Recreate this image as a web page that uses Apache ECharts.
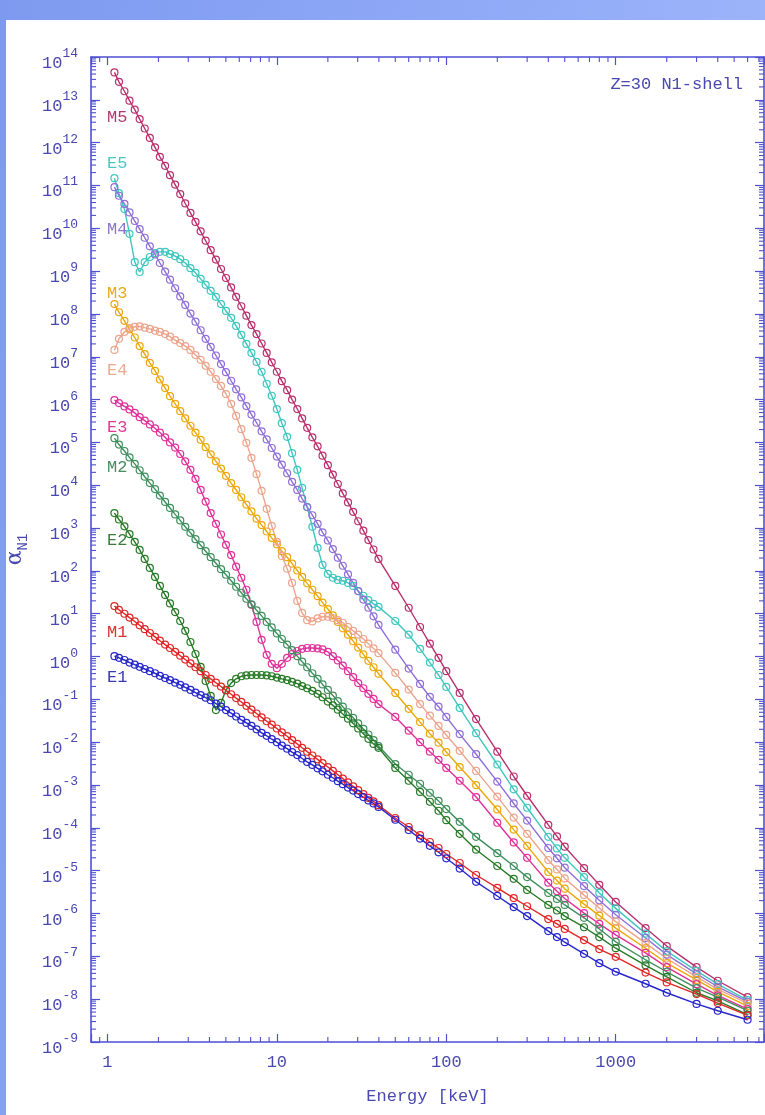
<!DOCTYPE html>
<html>
<head>
<meta charset="utf-8">
<title>Z=30 N1-shell</title>
<script src="https://cdn.jsdelivr.net/npm/echarts@6/dist/echarts.min.js"></script>
<style>
  html, body { margin: 0; padding: 0; }
  body { width: 765px; height: 1115px; position: relative; overflow: hidden;
         background: linear-gradient(100deg, #7d9af0 0%, #94adf8 60%, #a3baf9 100%); }
  #sheet { position: absolute; left: 6px; top: 20px; right: 0; bottom: 0; background: #fff; }
  #main { position: absolute; left: 0; top: 0; width: 765px; height: 1115px; }
</style>
</head>
<body>
<div id="sheet"></div>
<div id="main"></div>
<script>
// gamma energies in keV: fine grid up to 40 keV, then the coarse table points
var energy = [
  1.10, 1.17, 1.26, 1.35, 1.45, 1.55, 1.66, 1.78, 1.91, 2.04,
  2.19, 2.34, 2.51, 2.69, 2.88, 3.09, 3.31, 3.55, 3.80, 4.07,
  4.37, 4.68, 5.01, 5.37, 5.75, 6.17, 6.61, 7.08, 7.59, 8.13,
  8.71, 9.33, 10.0, 10.7, 11.5, 12.3, 13.2, 14.1, 15.1, 16.2,
  17.4, 18.6, 20.0, 21.4, 22.9, 24.5, 26.3, 28.2, 30.2, 32.4,
  34.7, 37.2, 39.8,
  50, 60, 70, 80, 90, 100, 120, 150, 200, 250, 300, 400, 450, 500, 650, 800,
  1000, 1500, 2000, 3000, 4000, 6000
];

// log10(alpha_N1) for each multipolarity
var m5 = [
  13.64, 13.42, 13.20, 12.98, 12.77, 12.55, 12.33, 12.11, 11.89, 11.67,
  11.46, 11.24, 11.02, 10.80, 10.58, 10.36, 10.15, 9.93, 9.71, 9.49,
  9.27, 9.05, 8.84, 8.62, 8.40, 8.18, 7.96, 7.74, 7.53, 7.31,
  7.09, 6.87, 6.65, 6.43, 6.22, 6.00, 5.78, 5.56, 5.34, 5.12,
  4.91, 4.69, 4.47, 4.25, 4.03, 3.81, 3.60, 3.38, 3.16, 2.94,
  2.72, 2.50, 2.28,
  1.65, 1.14, 0.69, 0.30, -0.03, -0.34, -0.85, -1.46, -2.22, -2.80, -3.25, -3.93, -4.20, -4.44, -4.94, -5.33,
  -5.73, -6.34, -6.76, -7.25, -7.57, -7.95
];
var e5 = [
  11.17, 10.82, 10.45, 9.87, 9.21, 8.98, 9.21, 9.33, 9.42, 9.45,
  9.45, 9.40, 9.35, 9.28, 9.19, 9.07, 8.96, 8.82, 8.68, 8.54,
  8.40, 8.23, 8.07, 7.91, 7.72, 7.51, 7.30, 7.09, 6.88, 6.65,
  6.37, 6.09, 5.78, 5.45, 5.13, 4.75, 4.36, 3.94, 3.49, 3.03,
  2.54, 2.14, 1.93, 1.84, 1.79, 1.77, 1.72, 1.65, 1.53, 1.42,
  1.32, 1.23, 1.16,
  0.83, 0.51, 0.18, -0.14, -0.43, -0.71, -1.20, -1.79, -2.52, -3.10, -3.53, -4.21, -4.48, -4.70, -5.15, -5.52,
  -5.88, -6.47, -6.88, -7.34, -7.65, -8.02
];
var m4 = [
  10.96, 10.76, 10.57, 10.37, 10.17, 9.98, 9.78, 9.58, 9.39, 9.19,
  8.99, 8.80, 8.60, 8.41, 8.21, 8.01, 7.82, 7.62, 7.42, 7.23,
  7.03, 6.83, 6.64, 6.44, 6.24, 6.05, 5.85, 5.65, 5.46, 5.26,
  5.07, 4.87, 4.67, 4.48, 4.28, 4.08, 3.89, 3.69, 3.49, 3.30,
  3.10, 2.90, 2.71, 2.51, 2.31, 2.12, 1.92, 1.72, 1.53, 1.33,
  1.14, 0.94, 0.74,
  0.16, -0.28, -0.64, -0.94, -1.17, -1.41, -1.81, -2.28, -2.92, -3.43, -3.83, -4.47, -4.71, -4.93, -5.36, -5.69,
  -6.03, -6.57, -6.96, -7.41, -7.71, -8.06
];
var m3 = [
  8.23, 8.04, 7.84, 7.64, 7.45, 7.25, 7.06, 6.86, 6.67, 6.47,
  6.27, 6.08, 5.90, 5.73, 5.56, 5.39, 5.23, 5.06, 4.89, 4.72,
  4.56, 4.39, 4.22, 4.05, 3.89, 3.72, 3.55, 3.39, 3.22, 3.07,
  2.92, 2.77, 2.62, 2.46, 2.32, 2.17, 2.01, 1.86, 1.71, 1.56,
  1.41, 1.26, 1.11, 0.96, 0.81, 0.66, 0.51, 0.36, 0.21, 0.05,
  -0.10, -0.25, -0.40,
  -0.85, -1.22, -1.53, -1.80, -2.01, -2.23, -2.58, -3.00, -3.57, -4.04, -4.42, -5.03, -5.23, -5.42, -5.78, -6.05,
  -6.34, -6.81, -7.16, -7.55, -7.83, -8.16
];
var e4 = [
  7.16, 7.42, 7.58, 7.67, 7.70, 7.71, 7.68, 7.65, 7.61, 7.58,
  7.53, 7.47, 7.39, 7.32, 7.25, 7.16, 7.04, 6.93, 6.79, 6.65,
  6.48, 6.32, 6.13, 5.90, 5.62, 5.31, 4.99, 4.64, 4.26, 3.87,
  3.45, 3.05, 2.68, 2.35, 2.05, 1.72, 1.30, 1.02, 0.85, 0.82,
  0.89, 0.93, 0.93, 0.90, 0.85, 0.79, 0.69, 0.60, 0.51, 0.41,
  0.30, 0.19, 0.08,
  -0.38, -0.77, -1.11, -1.38, -1.62, -1.83, -2.20, -2.67, -3.27, -3.76, -4.14, -4.75, -4.97, -5.18, -5.57, -5.87,
  -6.19, -6.69, -7.05, -7.48, -7.77, -8.10
];
var e3 = [
  5.99, 5.92, 5.84, 5.77, 5.69, 5.59, 5.51, 5.42, 5.33, 5.23,
  5.12, 5.00, 4.88, 4.73, 4.56, 4.36, 4.15, 3.89, 3.62, 3.35,
  3.10, 2.85, 2.61, 2.37, 2.10, 1.84, 1.56, 1.21, 0.81, 0.39,
  0.04, -0.17, -0.27, -0.17, -0.03, 0.06, 0.13, 0.18, 0.20, 0.20,
  0.19, 0.17, 0.11, 0.01, -0.09, -0.21, -0.34, -0.48, -0.62, -0.74,
  -0.87, -0.99, -1.11,
  -1.41, -1.73, -2.00, -2.22, -2.41, -2.60, -2.90, -3.28, -3.88, -4.34, -4.70, -5.28, -5.48, -5.65, -5.99, -6.24,
  -6.50, -6.92, -7.25, -7.65, -7.91, -8.23
];
var m2 = [
  5.10, 4.95, 4.80, 4.65, 4.50, 4.35, 4.20, 4.05, 3.91, 3.76,
  3.61, 3.47, 3.32, 3.18, 3.03, 2.89, 2.74, 2.60, 2.46, 2.32,
  2.18, 2.04, 1.91, 1.77, 1.63, 1.49, 1.35, 1.22, 1.08, 0.95,
  0.81, 0.68, 0.54, 0.41, 0.28, 0.15, 0.01, -0.12, -0.25, -0.39,
  -0.52, -0.65, -0.78, -0.91, -1.04, -1.17, -1.30, -1.43, -1.56, -1.69,
  -1.82, -1.95, -2.09,
  -2.51, -2.76, -2.97, -3.18, -3.37, -3.56, -3.86, -4.21, -4.59, -4.89, -5.15, -5.52, -5.66, -5.80, -6.10, -6.36,
  -6.66, -7.08, -7.36, -7.74, -7.95, -8.27
];
var e2 = [
  3.35, 3.20, 3.04, 2.86, 2.68, 2.49, 2.28, 2.07, 1.86, 1.65,
  1.44, 1.24, 1.04, 0.83, 0.60, 0.34, 0.06, -0.24, -0.57, -0.92,
  -1.25, -1.08, -0.78, -0.62, -0.52, -0.46, -0.44, -0.43, -0.43, -0.43,
  -0.44, -0.46, -0.49, -0.52, -0.55, -0.59, -0.63, -0.69, -0.74, -0.80,
  -0.87, -0.95, -1.05, -1.14, -1.24, -1.34, -1.45, -1.56, -1.68, -1.80,
  -1.92, -2.04, -2.13,
  -2.60, -2.90, -3.16, -3.39, -3.60, -3.82, -4.14, -4.51, -4.89, -5.19, -5.45, -5.80, -5.93, -6.06, -6.32, -6.55,
  -6.81, -7.21, -7.48, -7.85, -8.04, -8.36
];
var m1 = [
  1.18, 1.09, 1.00, 0.91, 0.82, 0.73, 0.64, 0.55, 0.46, 0.37,
  0.28, 0.20, 0.11, 0.02, -0.07, -0.16, -0.25, -0.34, -0.43, -0.52,
  -0.61, -0.70, -0.79, -0.88, -0.97, -1.06, -1.15, -1.24, -1.33, -1.42,
  -1.51, -1.59, -1.68, -1.77, -1.86, -1.95, -2.04, -2.13, -2.22, -2.31,
  -2.40, -2.49, -2.58, -2.67, -2.76, -2.85, -2.94, -3.03, -3.12, -3.21,
  -3.30, -3.38, -3.47,
  -3.77, -3.98, -4.17, -4.33, -4.47, -4.61, -4.82, -5.10, -5.40, -5.64, -5.83, -6.13, -6.24, -6.36, -6.62, -6.83,
  -7.01, -7.38, -7.61, -7.88, -8.09, -8.38
];
var e1 = [
  0.01, -0.03, -0.08, -0.14, -0.19, -0.24, -0.29, -0.34, -0.39, -0.45,
  -0.50, -0.55, -0.61, -0.66, -0.72, -0.78, -0.84, -0.90, -0.96, -1.02,
  -1.10, -1.17, -1.25, -1.32, -1.40, -1.48, -1.55, -1.62, -1.70, -1.78,
  -1.85, -1.93, -2.00, -2.08, -2.15, -2.23, -2.30, -2.38, -2.46, -2.53,
  -2.61, -2.68, -2.76, -2.83, -2.91, -2.98, -3.06, -3.13, -3.21, -3.28,
  -3.36, -3.43, -3.51,
  -3.81, -4.05, -4.25, -4.42, -4.57, -4.71, -4.95, -5.26, -5.59, -5.85, -6.06, -6.41, -6.55, -6.67, -6.94, -7.16,
  -7.36, -7.64, -7.85, -8.11, -8.27, -8.48
];

var names = ['M5', 'E5', 'M4', 'M3', 'E4', 'E3', 'M2', 'E2', 'M1', 'E1'];
var values = [m5, e5, m4, m3, e4, e3, m2, e2, m1, e1];
var lineColors = ['#b8306e', '#3fc6bf', '#8f6fd8', '#eaa80a', '#eda48c', '#e0309a', '#3f8f5e', '#267a26', '#e02626', '#2626cc'];
var tagColors  = ['#b03a70', '#4cc8c2', '#8a74c8', '#e6aa1e', '#eeaa92', '#e03a90', '#4a8c60', '#3c7c3c', '#d83434', '#3a3ab4'];
var tagY = [117, 163, 229, 293, 370, 427, 467, 540, 632, 677];

// axis ranges and tick marks
var xMin = 0.8, xMax = 7500;
var yMin = 1e-9, yMax = 1e14;
var xDecades = [0.1, 1, 10, 100, 1000];
var yExponents = [-9, -8, -7, -6, -5, -4, -3, -2, -1, 0, 1, 2, 3, 4, 5, 6, 7, 8, 9, 10, 11, 12, 13];
var mantissas = [2, 3, 4, 5, 6, 7, 8, 9];

var axisColor = '#4f4fd4';
var textColor = '#4848b0';
var font = '"Liberation Mono", "DejaVu Sans Mono", monospace';

var minorX = [];
xDecades.forEach(function (d) {
  mantissas.forEach(function (m) {
    var v = m * d;
    if (v > xMin && v < xMax) minorX.push([v, yMin]);
  });
});
var minorY = [];
yExponents.forEach(function (p) {
  mantissas.forEach(function (m) {
    minorY.push([xMin, m * Math.pow(10, p)]);
  });
});

function isDecade(v) {
  var p = Math.log10(v);
  return Math.abs(p - Math.round(p)) < 1e-6;
}

function tickLine(x1, y1, x2, y2) {
  return { type: 'line', shape: { x1: x1, y1: y1, x2: x2, y2: y2 },
           style: { stroke: axisColor, lineWidth: 1.1 } };
}

var lineSeries = names.map(function (n, k) {
  return {
    name: n,
    type: 'line',
    data: energy.map(function (e, i) { return [e, Math.pow(10, values[k][i])]; }),
    symbol: 'circle',
    symbolSize: 7,
    lineStyle: { color: lineColors[k], width: 1.4 },
    itemStyle: { color: 'rgba(255,255,255,0)', borderColor: lineColors[k], borderWidth: 1.2 },
    emphasis: { disabled: true },
    z: 3
  };
});

var tickSeries = [
  {
    type: 'custom',
    silent: true,
    data: minorX,
    renderItem: function (params, api) {
      var v = api.value(0);
      var b = api.coord([v, yMin]);
      var t = api.coord([v, yMax]);
      return { type: 'group', children: [
        tickLine(b[0], b[1], b[0], b[1] - 5),
        tickLine(t[0], t[1], t[0], t[1] + 5)
      ] };
    },
    z: 4
  },
  {
    type: 'custom',
    silent: true,
    data: minorY,
    renderItem: function (params, api) {
      var v = api.value(1);
      var l = api.coord([xMin, v]);
      var r = api.coord([xMax, v]);
      return { type: 'group', children: [
        tickLine(l[0], l[1], l[0] + 5, l[1]),
        tickLine(r[0], r[1], r[0] - 5, r[1])
      ] };
    },
    z: 4
  }
];

var tags = names.map(function (n, k) {
  return {
    type: 'text', x: 107, y: tagY[k],
    style: { text: n, fill: tagColors[k], font: '17px ' + font, verticalAlign: 'middle' }
  };
});
tags.push({
  type: 'text', x: 743, y: 84,
  style: { text: 'Z=30 N1-shell', fill: textColor, font: '17px ' + font, align: 'right', verticalAlign: 'middle' }
});

var axisLineStyle = { color: axisColor, width: 1.6 };

var chart = echarts.init(document.getElementById('main'), null, { renderer: 'canvas' });
chart.setOption({
  animation: false,
  textStyle: { fontFamily: font },
  grid: { left: 91, top: 57, width: 673, height: 985, containLabel: false, outerBoundsMode: 'none' },
  xAxis: [
    {
      type: 'log', min: xMin, max: xMax, position: 'bottom',
      axisLine: { show: true, lineStyle: axisLineStyle },
      axisTick: { show: true, inside: true, length: 8, lineStyle: { color: axisColor, width: 1.2 } },
      splitLine: { show: false },
      axisLabel: {
        color: textColor, fontSize: 17, fontFamily: font, margin: 12,
        formatter: function (v) { return isDecade(v) ? String(Math.round(v)) : ''; }
      },
      name: 'Energy [keV]', nameLocation: 'middle', nameGap: 46,
      nameTextStyle: { color: textColor, fontSize: 17, fontFamily: font }
    },
    {
      type: 'log', min: xMin, max: xMax, position: 'top',
      axisLine: { show: true, lineStyle: axisLineStyle },
      axisTick: { show: true, inside: true, length: 8, lineStyle: { color: axisColor, width: 1.2 } },
      splitLine: { show: false },
      axisLabel: { show: false }
    }
  ],
  yAxis: [
    {
      type: 'log', min: yMin, max: yMax, interval: 1, position: 'left',
      axisLine: { show: true, lineStyle: axisLineStyle },
      axisTick: { show: true, inside: true, length: 9, lineStyle: { color: axisColor, width: 1.2 } },
      splitLine: { show: false },
      axisLabel: {
        margin: 13, color: textColor, fontFamily: font, padding: [5, 0, 0, 0],
        formatter: function (v) {
          if (!isDecade(v)) return '';
          return '{s| }{b|10}{e|' + Math.round(Math.log10(v)) + '}';
        },
        rich: {
          s: { fontSize: 2, lineHeight: 25 },
          b: { fontSize: 17, lineHeight: 17, verticalAlign: 'bottom', color: textColor, fontFamily: font },
          e: { fontSize: 13, lineHeight: 13, verticalAlign: 'top', color: textColor, fontFamily: font }
        }
      },
      name: '{a|α}{n|N1}', nameLocation: 'middle', nameGap: 45,
      nameTextStyle: {
        color: textColor,
        rich: {
          a: { fontSize: 22, lineHeight: 26, verticalAlign: 'top', color: textColor, fontFamily: 'DejaVu Serif' },
          n: { fontSize: 14, lineHeight: 14, verticalAlign: 'bottom', color: textColor, fontFamily: font }
        }
      }
    },
    {
      type: 'log', min: yMin, max: yMax, interval: 1, position: 'right',
      axisLine: { show: true, lineStyle: axisLineStyle },
      axisTick: { show: true, inside: true, length: 9, lineStyle: { color: axisColor, width: 1.2 } },
      splitLine: { show: false },
      axisLabel: { show: false }
    }
  ],
  graphic: tags,
  series: lineSeries.concat(tickSeries)
});
</script>
</body>
</html>
